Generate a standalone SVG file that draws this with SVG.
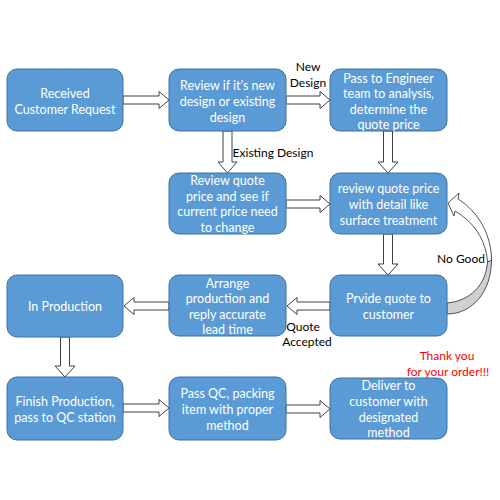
<svg xmlns="http://www.w3.org/2000/svg" width="500" height="500" viewBox="0 0 500 500">
<style>
.box{fill:#5B9BD5;stroke:#41719C;stroke-width:1}
.bt{font-family:Lato,"Liberation Sans",sans-serif;font-size:12.5px;fill:#FFFFFF;text-anchor:middle;dominant-baseline:central}
.lb{font-family:Lato,"Liberation Sans",sans-serif;font-size:12px;fill:#000000;text-anchor:middle;dominant-baseline:central}
.red{font-family:Lato,"Liberation Sans",sans-serif;font-size:12px;fill:#FF0000;text-anchor:middle;dominant-baseline:central}
.arr{fill:#FFFFFF;stroke:#404040;stroke-width:1;stroke-linejoin:miter}
</style>
<rect width="500" height="500" fill="#FFFFFF"/>
<g id="connectors">
<path class="arr" d="M123,96 H159 V91.5 L169,100 L159,108.5 V104 H123 Z"/>
<path class="arr" d="M286,96 H320 V91.5 L330,100 L320,108.5 V104 H286 Z"/>
<path class="arr" d="M223,131 V162 H218 L227.5,173 L237,162 H232 V131 Z"/>
<path class="arr" d="M383.5,131 V162 H378 L388,173 L398,162 H392.5 V131 Z"/>
<path class="arr" d="M286,200 H320 V195.5 L330,204 L320,212.5 V208 H286 Z"/>
<path class="arr" d="M383.5,234 V264 H378 L388,275 L398,264 H392.5 V234 Z"/>
<path class="arr" d="M330,302 H297 V297.5 L287,306 L297,314.5 V310 H330 Z"/>
<path class="arr" d="M169,302 H134 V297.5 L124,306 L134,314.5 V310 H169 Z"/>
<path class="arr" d="M60.5,337 V366 H55 L65,377 L75,366 H69.5 V337 Z"/>
<path class="arr" d="M123,404 H159 V399.5 L169,408 L159,416.5 V412 H123 Z"/>
<path class="arr" d="M286,405 H320 V400.5 L330,409 L320,417.5 V413 H286 Z"/>
<path d="M447,303 C470,301 486,285 487.5,262 L491.5,260 C491.5,292 472,314 447,314 Z" fill="#D0D0D0" stroke="#404040" stroke-width="0.9"/>
<path d="M487.5,262 C486,240 474,222 455,211 L454,216 L448,203 L459,193 L458,199 C479,212 491.5,236 491.5,260 Z" fill="#FFFFFF" stroke="#404040" stroke-width="0.9"/>
</g>
<g id="n1"><rect class="box" x="7" y="69" width="116" height="62" rx="10"/>
<text class="bt" x="65" y="93">Received</text><text class="bt" x="65" y="109">Customer Request</text></g>
<g id="n2"><rect class="box" x="169" y="69" width="117" height="62" rx="10"/>
<text class="bt" x="227.5" y="85">Review if it’s new</text><text class="bt" x="227.5" y="101">design or existing</text><text class="bt" x="227.5" y="117">design</text></g>
<g id="n3"><rect class="box" x="330" y="69" width="117" height="62" rx="10"/>
<text class="bt" x="388.5" y="78">Pass to Engineer</text><text class="bt" x="388.5" y="93.5">team to analysis,</text><text class="bt" x="388.5" y="109">determine the</text><text class="bt" x="388.5" y="124.5">quote price</text></g>
<g id="n4"><rect class="box" x="169" y="173" width="117" height="61" rx="10"/>
<text class="bt" x="227.5" y="180.5">Review quote</text><text class="bt" x="227.5" y="196">price and see if</text><text class="bt" x="227.5" y="211.5">current price need</text><text class="bt" x="227.5" y="227">to change</text></g>
<g id="n5"><rect class="box" x="330" y="173" width="117" height="61" rx="10"/>
<text class="bt" x="388.5" y="188">review quote price</text><text class="bt" x="388.5" y="204">with detail like</text><text class="bt" x="388.5" y="220">surface treatment</text></g>
<g id="n6"><rect class="box" x="169" y="275" width="117" height="61" rx="10"/>
<text class="bt" x="227.5" y="283">Arrange</text><text class="bt" x="227.5" y="298.5">production and</text><text class="bt" x="227.5" y="314">reply accurate</text><text class="bt" x="227.5" y="329.5">lead time</text></g>
<g id="n7"><rect class="box" x="330" y="275" width="117" height="61" rx="10"/>
<text class="bt" x="388.5" y="298">Prvide quote to</text><text class="bt" x="388.5" y="314">customer</text></g>
<g id="n8"><rect class="box" x="7" y="275" width="116" height="62" rx="10"/>
<text class="bt" x="65" y="306">In Production</text></g>
<g id="n9"><rect class="box" x="7" y="377" width="116" height="63" rx="10"/>
<text class="bt" x="65" y="401.5">Finish Production,</text><text class="bt" x="65" y="417">pass to QC station</text></g>
<g id="n10"><rect class="box" x="169" y="377" width="117" height="63" rx="10"/>
<text class="bt" x="227.5" y="393">Pass QC, packing</text><text class="bt" x="227.5" y="409">item with proper</text><text class="bt" x="227.5" y="425">method</text></g>
<g id="n11"><rect class="box" x="330" y="378" width="117" height="61" rx="10"/>
<text class="bt" x="388.5" y="385">Deliver to</text><text class="bt" x="388.5" y="401">customer with</text><text class="bt" x="388.5" y="417">designated</text><text class="bt" x="388.5" y="432">method</text></g>
<g id="labels">
<text class="lb" x="308" y="66">New</text><text class="lb" x="308" y="82">Design</text>
<text class="lb" x="273" y="152">Existing Design</text>
<text class="lb" x="461" y="258">No Good</text>
<text class="lb" x="303" y="326">Quote</text><text class="lb" x="307" y="341">Accepted</text>
<text class="red" x="447" y="355">Thank you</text><text class="red" x="448" y="371">for your order!!!</text>
</g>
</svg>
